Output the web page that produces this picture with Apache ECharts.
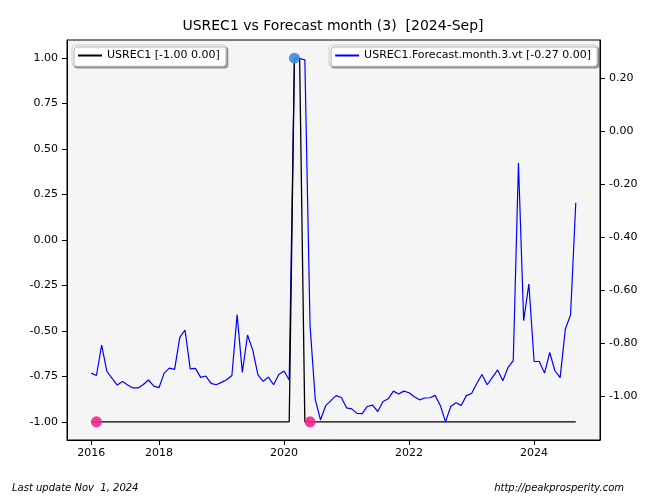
<!DOCTYPE html>
<html><head><meta charset="utf-8">
<script src="https://cdn.jsdelivr.net/npm/echarts@6/dist/echarts.min.js"></script>
<style>html,body{margin:0;padding:0;background:#fff}#c{width:666px;height:500px}</style>
</head><body><div id="c"></div>
<script>
// x positions are the index of each point (monthly observations)
const yearTickIdx = [0, 13, 37, 61, 85];
const yearTickLabels = ['2016', '2018', '2020', '2022', '2024'];
const leftTicks = [-1.0, -0.75, -0.5, -0.25, 0.0, 0.25, 0.5, 0.75, 1.0];
const rightTicks = [-1.0, -0.8, -0.6, -0.4, -0.2, 0.0, 0.2];

const usrec1 = [
 -1,-1,-1,-1,-1,-1,-1,-1,-1,-1, -1,-1,-1,-1,-1,-1,-1,-1,-1,-1,
 -1,-1,-1,-1,-1,-1,-1,-1,-1,-1, -1,-1,-1,-1,-1,-1,-1,-1,-1, 1,
  1,-1,-1,-1,-1,-1,-1,-1,-1,-1, -1,-1,-1,-1,-1,-1,-1,-1,-1,-1,
 -1,-1,-1,-1,-1,-1,-1,-1,-1,-1, -1,-1,-1,-1,-1,-1,-1,-1,-1,-1,
 -1,-1,-1,-1,-1,-1,-1,-1,-1,-1, -1,-1,-1,-1
];
const forecast = [
 -0.913,-0.922,-0.807,-0.906,-0.933,-0.958,-0.945,-0.958,-0.969,-0.969,
 -0.956,-0.939,-0.962,-0.968,-0.913,-0.894,-0.899,-0.778,-0.750,-0.897,
 -0.895,-0.929,-0.924,-0.952,-0.957,-0.948,-0.938,-0.922,-0.692,-0.910,
 -0.769,-0.826,-0.920,-0.944,-0.928,-0.957,-0.918,-0.905,-0.939, 0.277,
  0.275, 0.271,-0.734,-1.012,-1.090,-1.036,-1.017,-0.998,-1.005,-1.044,
 -1.048,-1.065,-1.066,-1.039,-1.034,-1.058,-1.020,-1.010,-0.981,-0.992,
 -0.981,-0.987,-1.002,-1.014,-1.007,-1.006,-0.997,-1.035,-1.097,-1.039,
 -1.025,-1.035,-0.998,-0.990,-0.952,-0.918,-0.957,-0.929,-0.901,-0.942,
 -0.892,-0.866,-0.119,-0.715,-0.576,-0.869,-0.869,-0.913,-0.835,-0.904,
 -0.930,-0.746,-0.693,-0.269
];
const pinkIdx = [1, 42];
const blueDotIdx = [39];

const titleText = 'USREC1 vs Forecast month (3)  [2024-Sep]';
const name1 = 'USREC1 [-1.00 0.00]';
const name2 = 'USREC1.Forecast.month.3.vt [-0.27 0.00]';

const n = forecast.length;
const pad = (n - 1) * 0.05;
let fmin = Math.min(...forecast), fmax = Math.max(...forecast);
const fpad = (fmax - fmin) * 0.05;

const chart = echarts.init(document.getElementById('c'), null, {renderer: 'canvas'});
const font = 'DejaVu Sans';
const legendCommon = {
  top: 45, orient: 'horizontal', itemWidth: 24, itemHeight: 2, itemGap: 6,
  padding: [5, 6, 5, 6], backgroundColor: '#ffffff', borderColor: '#cccccc', borderWidth: 1,
  borderRadius: 3, shadowColor: 'rgba(0,0,0,0.35)', shadowBlur: 1, shadowOffsetX: 2, shadowOffsetY: 2,
  textStyle: {fontFamily: font, fontSize: 11, color: '#000'}, icon: 'rect'
};
chart.setOption({
  animation: false,
  backgroundColor: '#ffffff',
  title: {text: titleText, left: 'center', top: 14,
    textStyle: {fontFamily: font, fontSize: 14, fontWeight: 'normal', color: '#000'}},
  legend: [
    Object.assign({}, legendCommon, {left: 72, data: [name1]}),
    Object.assign({}, legendCommon, {right: 69, data: [name2]})
  ],
  grid: {left: 67, right: 66, top: 40, bottom: 60, show: true, backgroundColor: '#f5f5f5',
    borderColor: '#000', borderWidth: 1},
  xAxis: {type: 'value', min: -pad, max: (n - 1) + pad,
    axisLine: {show: true, onZero: false, lineStyle: {color: '#000'}},
    axisTick: {show: true, length: 5, lineStyle: {color: '#000'}, customValues: yearTickIdx},
    axisLabel: {customValues: yearTickIdx, margin: 8, fontFamily: font, fontSize: 11, color: '#000',
      formatter: v => { const k = yearTickIdx.indexOf(Math.round(v)); return k >= 0 ? yearTickLabels[k] : ''; }},
    splitLine: {show: false}},
  yAxis: [
    {type: 'value', position: 'left', min: -1.1, max: 1.1,
      axisLine: {show: true, onZero: false, lineStyle: {color: '#000'}},
      axisTick: {show: true, length: 5, lineStyle: {color: '#000'}, customValues: leftTicks},
      axisLabel: {customValues: leftTicks, margin: 9, fontFamily: font, fontSize: 11, color: '#000',
        formatter: v => v.toFixed(2)},
      splitLine: {show: false}},
    {type: 'value', position: 'right', min: fmin - fpad, max: fmax + fpad,
      axisLine: {show: true, onZero: false, lineStyle: {color: '#000'}},
      axisTick: {show: true, length: 5, lineStyle: {color: '#000'}, customValues: rightTicks},
      axisLabel: {customValues: rightTicks, margin: 9, fontFamily: font, fontSize: 11, color: '#000',
        formatter: v => v.toFixed(2)},
      splitLine: {show: false}}
  ],
  series: [
    {name: name1, type: 'line', yAxisIndex: 0, data: usrec1.map((v, i) => [i, v]),
      symbol: 'none', lineStyle: {color: '#000', width: 1.3}, itemStyle: {color: '#000'}, z: 3},
    {name: name2, type: 'line', yAxisIndex: 1, data: forecast.map((v, i) => [i, v]),
      symbol: 'none', lineStyle: {color: '#0000ff', width: 1.2}, itemStyle: {color: '#0000ff'}, z: 2},
    {name: 'pink', type: 'scatter', yAxisIndex: 0, data: pinkIdx.map(i => [i, usrec1[i]]),
      symbolSize: 11, itemStyle: {color: '#f0288c', opacity: 0.9}, z: 5},
    {name: 'max', type: 'scatter', yAxisIndex: 1, data: blueDotIdx.map(i => [i, forecast[i]]),
      symbolSize: 11, itemStyle: {color: '#3a8ee6', opacity: 0.9}, z: 5}
  ],
  graphic: [
    {type: 'text', left: 12, top: 483, style: {text: 'Last update Nov  1, 2024', fontFamily: font,
      fontStyle: 'italic', fontSize: 10, fill: '#000'}},
    {type: 'text', right: 42, top: 483, style: {text: 'http://peakprosperity.com', fontFamily: font,
      fontStyle: 'italic', fontSize: 10, fill: '#000'}}
  ]
});
</script></body></html>
